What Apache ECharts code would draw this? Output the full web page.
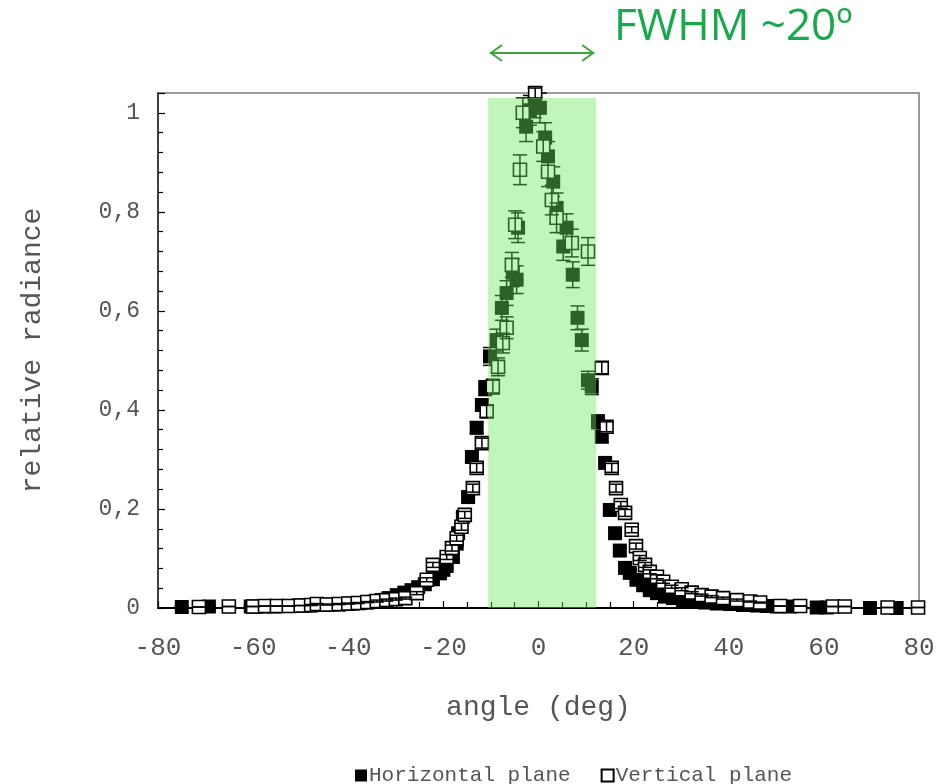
<!DOCTYPE html>
<html><head><meta charset="utf-8">
<script src="https://cdn.jsdelivr.net/npm/echarts@6/dist/echarts.min.js"></script>
<style>html,body{margin:0;padding:0;background:#fff}#c{width:949px;height:784px}</style>
</head><body><div id="c"></div>
<script>
// ---- data ----
const hAngles = [-75.0,-69.3,-60.5,-59.3,-58.0,-56.8,-55.5,-54.2,-53.0,-51.8,-50.5,-49.2,-48.0,-46.5,-45.0,-43.5,-42.0,-40.5,-39.0,-37.5,-36.0,-34.5,-33.0,-31.5,-29.8,-28.2,-26.7,-25.3,-23.9,-22.2,-20.7,-20.0,-19.3,-18.0,-17.2,-16.9,-15.9,-14.8,-14.0,-13.0,-11.9,-11.2,-10.2,-8.8,-7.7,-6.7,-5.4,-4.6,-4.3,-2.6,-1.8,-0.8,0.3,1.4,2.0,3.1,3.8,5.2,5.9,7.2,8.2,9.1,10.4,11.2,12.5,13.3,14.0,15.0,16.1,17.1,18.2,19.2,20.6,22.0,23.4,24.9,26.6,28.3,30.4,32.5,35.0,37.5,40.3,43.0,45.9,48.0,50.1,52.9,58.5,60.6,69.7,75.3];
const hValues = [0.002,0.003,0.003,0.003,0.003,0.004,0.003,0.004,0.004,0.004,0.005,0.005,0.005,0.006,0.006,0.007,0.007,0.008,0.009,0.010,0.011,0.013,0.016,0.020,0.026,0.031,0.036,0.042,0.048,0.058,0.070,0.077,0.085,0.103,0.130,0.151,0.184,0.224,0.305,0.364,0.410,0.444,0.508,0.541,0.606,0.636,0.677,0.663,0.768,0.972,1.005,1.020,1.010,0.950,0.912,0.861,0.808,0.730,0.768,0.673,0.586,0.541,0.460,0.447,0.376,0.346,0.293,0.198,0.151,0.116,0.081,0.071,0.057,0.046,0.036,0.030,0.023,0.020,0.016,0.013,0.011,0.009,0.008,0.006,0.005,0.004,0.003,0.003,0.001,0.001,0.000,0.000];
const hErrors = [0,0,0.002,0.002,0.002,0.002,0.002,0.002,0.002,0.002,0.002,0.002,0.002,0.002,0.002,0.002,0.002,0.002,0.002,0.002,0.002,0.003,0.003,0.003,0.003,0.003,0.004,0.004,0.004,0.004,0.005,0.005,0.005,0.006,0.006,0.006,0.007,0.008,0.010,0.012,0.012,0.015,0.018,0.022,0.025,0.025,0.028,0.028,0.030,0.030,0.030,0.030,0.030,0.030,0.030,0.030,0.030,0.028,0.028,0.026,0.024,0.022,0.018,0.016,0.014,0.012,0.010,0.008,0.007,0.006,0.005,0.005,0.004,0.004,0.003,0.003,0.003,0.003,0.002,0.002,0.002,0.002,0.002,0.002,0.002,0.002,0.002,0.002,0,0,0,0];

const vAngles = [-71.4,-65.1,-60.0,-57.5,-55.0,-52.5,-50.0,-47.8,-46.6,-44.5,-42.0,-40.0,-38.0,-36.0,-34.0,-32.0,-30.0,-28.0,-25.6,-23.5,-22.2,-19.3,-18.2,-17.2,-16.2,-15.5,-13.8,-13.0,-11.9,-10.9,-9.6,-8.5,-7.5,-6.7,-5.6,-4.9,-3.9,-3.3,-0.7,1.0,2.0,2.8,3.8,7.0,10.4,13.3,14.3,15.4,16.3,17.3,18.2,19.6,20.5,21.3,22.4,23.4,24.9,26.2,28.0,30.1,32.2,34.3,36.4,38.8,41.7,44.5,46.6,50.8,55.0,61.9,64.4,73.4,79.8];
const vValues = [0.002,0.003,0.003,0.004,0.004,0.004,0.005,0.006,0.008,0.007,0.008,0.009,0.010,0.012,0.014,0.016,0.018,0.020,0.030,0.057,0.087,0.103,0.121,0.141,0.164,0.188,0.242,0.283,0.333,0.397,0.447,0.487,0.535,0.566,0.693,0.774,0.885,1.000,1.040,0.932,0.881,0.824,0.788,0.737,0.720,0.485,0.366,0.283,0.242,0.208,0.192,0.158,0.125,0.101,0.087,0.073,0.063,0.053,0.043,0.038,0.031,0.026,0.023,0.020,0.016,0.013,0.011,0.004,0.004,0.003,0.003,0.001,0.001];
const vErrors = [0,0,0,0,0,0,0,0.001,0.001,0.001,0.001,0.001,0.001,0.001,0.002,0.002,0.002,0.002,0.003,0.004,0.005,0.005,0.006,0.006,0.007,0.007,0.008,0.009,0.010,0.012,0.015,0.018,0.020,0.022,0.025,0.028,0.030,0.030,0.010,0.030,0.030,0.030,0.030,0.028,0.028,0.012,0.010,0.009,0.008,0.007,0.007,0.006,0.006,0.005,0.005,0.004,0.004,0.003,0.003,0.003,0.002,0.002,0.002,0.002,0.002,0.001,0.001,0,0,0,0,0,0];

const xTickValues = [-80,-60,-40,-20,0,20,40,60,80];
const yTickValues = [0,0.2,0.4,0.6,0.8,1];
const yTickLabels = ['0','0,2','0,4','0,6','0,8','1'];
const fwhmBand = [-10.6, 12.1, 1.03];   // x0, x1, top
const arrowSpan = [-10.2, 11.7];
const annotationText = 'FWHM ~20º';
const seriesNames = ['Horizontal plane','Vertical plane'];
const xName = 'angle (deg)';
const yName = 'relative radiance';

// ---- chart ----
const chart = echarts.init(document.getElementById('c'), null, {renderer:'canvas'});
const mono = 'Liberation Mono';
const txtCol = '#555';

function errSeries(angles, values, errs, z) {
  return {
    type:'custom', silent:true, z: z, clip:false,
    data: angles.map((a,i)=>[a, values[i]-errs[i], values[i]+errs[i]]),
    encode:{x:0, y:[1,2]},
    renderItem(params, api){
      const x = api.value(0);
      const lo = api.coord([x, api.value(1)]);
      const hi = api.coord([x, api.value(2)]);
      const hw = 7;
      const st = {stroke:'#000', lineWidth:1.5};
      return {type:'group', children:[
        {type:'line', shape:{x1:lo[0],y1:lo[1],x2:hi[0],y2:hi[1]}, style:st},
        {type:'line', shape:{x1:lo[0]-hw,y1:lo[1],x2:lo[0]+hw,y2:lo[1]}, style:st},
        {type:'line', shape:{x1:hi[0]-hw,y1:hi[1],x2:hi[0]+hw,y2:hi[1]}, style:st}
      ]};
    }
  };
}

const option = {
  animation:false,
  backgroundColor:'#fff',
  grid:{left:158, right:30, top:93, bottom:176, show:true, borderColor:'#9a9a9a', borderWidth:2, backgroundColor:'transparent'},
  xAxis:{
    type:'value', min:-80, max:80, interval:20,
    name:xName, nameLocation:'middle', nameGap:86,
    nameTextStyle:{fontFamily:mono, fontSize:28, color:txtCol},
    axisLine:{show:true, onZero:false, lineStyle:{color:'#000', width:2}},
    axisTick:{show:true, inside:true, length:7, lineStyle:{color:'#000', width:1.2}},
    minorTick:{show:true, splitNumber:4, length:6, lineStyle:{color:'#000', width:1.2}},
    axisLabel:{fontFamily:mono, fontSize:26, color:txtCol, margin:27,
      formatter:v=> xTickValues.indexOf(v)>=0 ? String(v) : ''},
    splitLine:{show:false}
  },
  yAxis:{
    type:'value', min:0, max:1.04, interval:0.2,
    name:yName, nameLocation:'middle', nameGap:111,
    nameTextStyle:{fontFamily:mono, fontSize:28, color:txtCol},
    axisLine:{show:true, onZero:false, lineStyle:{color:'#222', width:1.5}},
    axisTick:{show:true, inside:true, length:7, lineStyle:{color:'#000', width:1.2}},
    minorTick:{show:true, splitNumber:5, length:5, lineStyle:{color:'#000', width:1.2}},
    axisLabel:{fontFamily:mono, fontSize:23, color:txtCol, margin:18,
      formatter:v=>{ const i = yTickValues.findIndex(t=>Math.abs(t-v)<1e-6); return i>=0 ? yTickLabels[i] : ''; }},
    splitLine:{show:false}
  },
  legend:{
    left:350, top:760, itemWidth:12, itemGap:30, itemHeight:12,
    textStyle:{fontFamily:mono, fontSize:21, color:txtCol, padding:[0,0,0,-3]},
    data:[{name:seriesNames[0], icon:'rect'},{name:seriesNames[1], icon:'rect'}]
  },
  series:[
    {name:seriesNames[0], type:'scatter', symbol:'rect', symbolSize:14, z:2, clip:false,
      itemStyle:{color:'#000', opacity:1},
      data:hAngles.map((a,i)=>[a,hValues[i]])},
    errSeries(hAngles, hValues, hErrors, 3),
    {name:seriesNames[1], type:'scatter', symbol:'rect', symbolSize:13, z:4, clip:false,
      itemStyle:{color:'#fff', borderColor:'#000', borderWidth:1.6, opacity:1},
      data:vAngles.map((a,i)=>[a,vValues[i]])},
    errSeries(vAngles, vValues, vErrors, 5),
    {type:'custom', silent:true, z:10, clip:false,
      data:[[fwhmBand[0], fwhmBand[1], fwhmBand[2]]],
      renderItem(params, api){
        const p0 = api.coord([api.value(0), api.value(2)]);
        const p1 = api.coord([api.value(1), 0]);
        return {type:'rect', shape:{x:p0[0], y:p0[1], width:p1[0]-p0[0], height:p1[1]-p0[1]},
          style:{fill:'rgba(105,230,95,0.42)'}};
      }}
  ]
};
chart.setOption(option);

const a0 = chart.convertToPixel({gridIndex:0}, [arrowSpan[0], 0]);
const a1 = chart.convertToPixel({gridIndex:0}, [arrowSpan[1], 0]);
const ay = 53, ac = '#3fa63f';
chart.setOption({graphic:[
  {type:'line', shape:{x1:a0[0], y1:ay, x2:a1[0], y2:ay}, style:{stroke:ac, lineWidth:2}},
  {type:'polyline', shape:{points:[[a0[0]+12,ay-8],[a0[0]+1,ay],[a0[0]+12,ay+8]]}, style:{stroke:ac, lineWidth:2, fill:null}},
  {type:'polyline', shape:{points:[[a1[0]-12,ay-8],[a1[0]-1,ay],[a1[0]-12,ay+8]]}, style:{stroke:ac, lineWidth:2, fill:null}},
  {type:'text', left:614, top:5, style:{text:annotationText, fontFamily:'Open Sans', fontSize:44, fill:'#17aa4b'}}
]});
</script></body></html>
